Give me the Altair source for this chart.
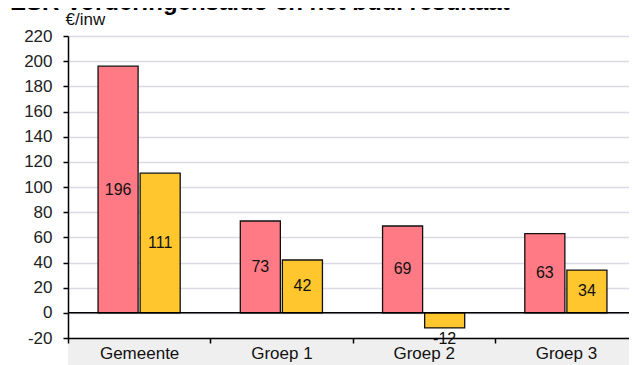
import altair as alt
import pandas as pd

title_text = "ESR Vorderingensaldo en het bud. resultaat"
categories = ["Gemeente", "Groep 1", "Groep 2", "Groep 3"]
series_names = ["Vorderingensaldo", "Bud. resultaat"]
vorderingensaldo = [196, 73, 69, 63]
bud_resultaat = [111, 42, -12, 34]
y_ticks = list(range(-20, 221, 20))
colors = ["#FF7A85", "#FFC62E"]

rows = []
for c, a, b in zip(categories, vorderingensaldo, bud_resultaat):
    rows.append({"cat": c, "serie": series_names[0], "value": a})
    rows.append({"cat": c, "serie": series_names[1], "value": b})
df = pd.DataFrame(rows)
df["label"] = df["value"].astype(str)

FONT = "Liberation Sans"

x_axis = alt.Axis(title=None, labelAngle=0, tickBand="extent", tickSize=5,
                  tickColor="#000", domainColor="#000", domainWidth=1.5,
                  tickWidth=1.5, labelFont=FONT, labelFontSize=17,
                  labelColor="#111", labelPadding=2, grid=False, zindex=1)
x_scale = alt.Scale(paddingInner=0, paddingOuter=0, range=[0, 569])
x_enc = alt.X("cat:N", sort=categories, scale=x_scale, axis=x_axis, title=None)
xo_enc = alt.XOffset("serie:N", sort=series_names,
                     scale=alt.Scale(paddingInner=0.048, paddingOuter=0.714))
y_scale = alt.Scale(domain=[-20, 220], nice=False, zero=False)
y_axis = alt.Axis(values=y_ticks, labelExpr="'' + datum.value", labelOverlap=False,
                  title="€/inw", titleAngle=0, titleX=-3,
                  titleY=-12, titleAlign="left", titleBaseline="alphabetic",
                  titleFont=FONT, titleFontSize=17, titleFontWeight="normal",
                  titleColor="#111", labelFont=FONT, labelFontSize=17,
                  labelColor="#222", labelPadding=11, tickSize=5,
                  tickColor="#000", tickWidth=1.5, domainColor="#000",
                  domainWidth=1.5, gridColor="#dadae6", gridWidth=1.5)


def y_enc(field):
    return alt.Y(field, scale=y_scale, axis=y_axis, title="€/inw")


band = alt.Chart(pd.DataFrame({"k": [0]})).mark_rect(color="#efefef").encode(
    x=alt.value(0), x2=alt.value(569), y=alt.value(303), y2=alt.value(335))

title_mark = alt.Chart(pd.DataFrame({"t": [title_text]})).mark_text(
    font=FONT, fontSize=24, fontWeight="bold", color="#000", align="left",
    baseline="alphabetic").encode(x=alt.value(-58), y=alt.value(-26), text="t:N")

base = alt.Chart(df)

bars = base.mark_bar(stroke="#111", strokeWidth=1.3).encode(
    x=x_enc, xOffset=xo_enc, y=y_enc("value:Q"),
    color=alt.Color("serie:N", sort=series_names,
                    scale=alt.Scale(domain=series_names, range=colors), legend=None),
)

zero = alt.Chart(pd.DataFrame({"z": [0]})).mark_rule(color="#000", strokeWidth=1.5).encode(
    y=y_enc("z:Q"))

pos_labels = base.transform_filter("datum.value >= 0").transform_calculate(
    mid="datum.value / 2").mark_text(font=FONT, fontSize=16, color="#111",
                                     baseline="middle").encode(
    x=x_enc, xOffset=xo_enc, y=y_enc("mid:Q"), text="label:N")

neg_labels = base.transform_filter("datum.value < 0").mark_text(
    font=FONT, fontSize=16, color="#111", baseline="top", dy=3).encode(
    x=x_enc, xOffset=xo_enc, y=y_enc("value:Q"), text="label:N")

chart = alt.layer(band, bars, zero, pos_labels, neg_labels, title_mark).properties(
    width=561, height=302,
    padding={"left": 60, "top": 28, "right": 0, "bottom": 27},
    autosize=alt.AutoSizeParams(type="none"),
).configure_view(stroke=None)

chart.save("out.html", embed_options={"renderer": "svg", "actions": False})
